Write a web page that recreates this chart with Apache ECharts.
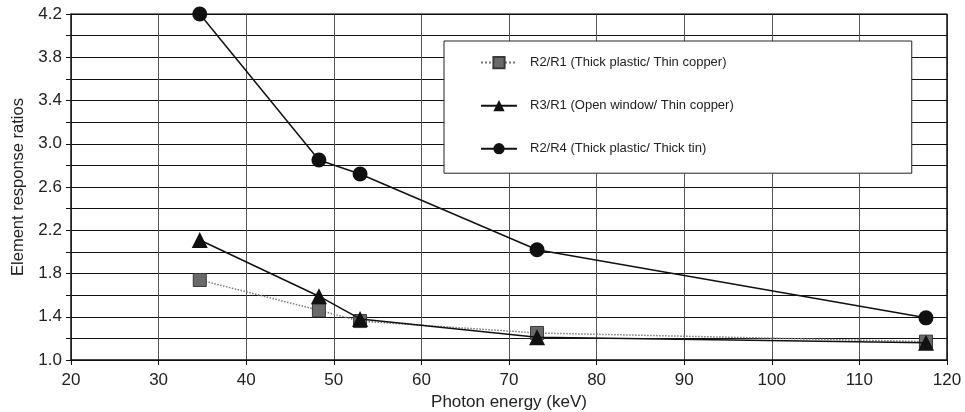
<!DOCTYPE html>
<html>
<head>
<meta charset="utf-8">
<script src="https://cdn.jsdelivr.net/npm/echarts@6/dist/echarts.min.js"></script>
<style>
  html, body { margin: 0; padding: 0; background: #fff; }
  #chart { width: 965px; height: 412px; }
</style>
</head>
<body>
<div id="chart"></div>
<script>
// values
const energy = [34.7, 48.3, 53.0, 73.2, 117.6];
const r2r1 = [1.74, 1.46, 1.36, 1.25, 1.17];
const r3r1 = [2.11, 1.59, 1.38, 1.21, 1.16];
const r2r4 = [4.2, 2.85, 2.72, 2.02, 1.39];
const names = [
  "R2/R1 (Thick plastic/ Thin copper)",
  "R3/R1 (Open window/ Thin copper)",
  "R2/R4 (Thick plastic/ Thick tin)"
];

function pairs(ys) {
  return energy.map((x, i) => [x, ys[i]]);
}

const chart = echarts.init(document.getElementById("chart"));
chart.setOption({
  animation: false,
  textStyle: { fontFamily: "Liberation Sans, Arial, sans-serif" },
  grid: { left: 71, right: 18, top: 14, bottom: 52, outerBoundsMode: "none" },
  legend: {
    orient: "vertical",
    left: 444,
    top: 41,
    padding: [15, 178, 18, 36],
    itemGap: 30,
    itemWidth: 36,
    itemHeight: 14,
    backgroundColor: "#fff",
    borderColor: "#222",
    borderWidth: 1,
    textStyle: { fontSize: 13, color: "#222", padding: [0, 0, 0, 8] },
    data: names
  },
  xAxis: {
    type: "value",
    min: 20,
    max: 120,
    interval: 10,
    name: "Photon energy (keV)",
    nameLocation: "middle",
    nameGap: 33,
    nameTextStyle: { fontSize: 17, color: "#222" },
    axisLine: { lineStyle: { color: "#111", width: 1.5 } },
    axisTick: { show: true, length: 5, lineStyle: { color: "#111" } },
    axisLabel: { fontSize: 17, color: "#222", margin: 12 },
    splitLine: { show: true, lineStyle: { color: "#555", width: 1 } }
  },
  yAxis: {
    type: "value",
    min: 1.0,
    max: 4.2,
    interval: 0.2,
    name: "Element response ratios",
    nameLocation: "middle",
    nameGap: 44,
    nameTextStyle: { fontSize: 16.5, color: "#222" },
    axisLine: { show: true, lineStyle: { color: "#111", width: 1.5 } },
    axisTick: { show: true, length: 5, lineStyle: { color: "#111" } },
    axisLabel: {
      fontSize: 17,
      color: "#222",
      margin: 9,
      formatter: function (v) {
        const k = Math.round((v - 1.0) / 0.2);
        return k % 2 === 0 ? v.toFixed(1) : "";
      }
    },
    splitLine: { show: true, lineStyle: { color: "#111", width: 1 } }
  },
  series: [
    {
      name: names[0],
      type: "line",
      data: pairs(r2r1),
      symbol: "rect",
      symbolSize: 13,
      itemStyle: { color: "#6a6a6a", borderColor: "#3a3a3a", borderWidth: 1 },
      lineStyle: { color: "#777", width: 1.5, type: "dotted" },
      z: 3
    },
    {
      name: names[1],
      type: "line",
      data: pairs(r3r1),
      symbol: "triangle",
      symbolSize: 16,
      itemStyle: { color: "#111" },
      lineStyle: { color: "#111", width: 1.5 },
      z: 4
    },
    {
      name: names[2],
      type: "line",
      data: pairs(r2r4),
      symbol: "circle",
      symbolSize: 15,
      itemStyle: { color: "#111" },
      lineStyle: { color: "#111", width: 1.5 },
      z: 5
    },
    {
      // frame on the top and right edges
      type: "line",
      data: [[20, 4.2], [120, 4.2], [120, 1.0]],
      symbol: "none",
      silent: true,
      lineStyle: { color: "#111", width: 1.5 },
      z: 1
    }
  ]
});
</script>
</body>
</html>
